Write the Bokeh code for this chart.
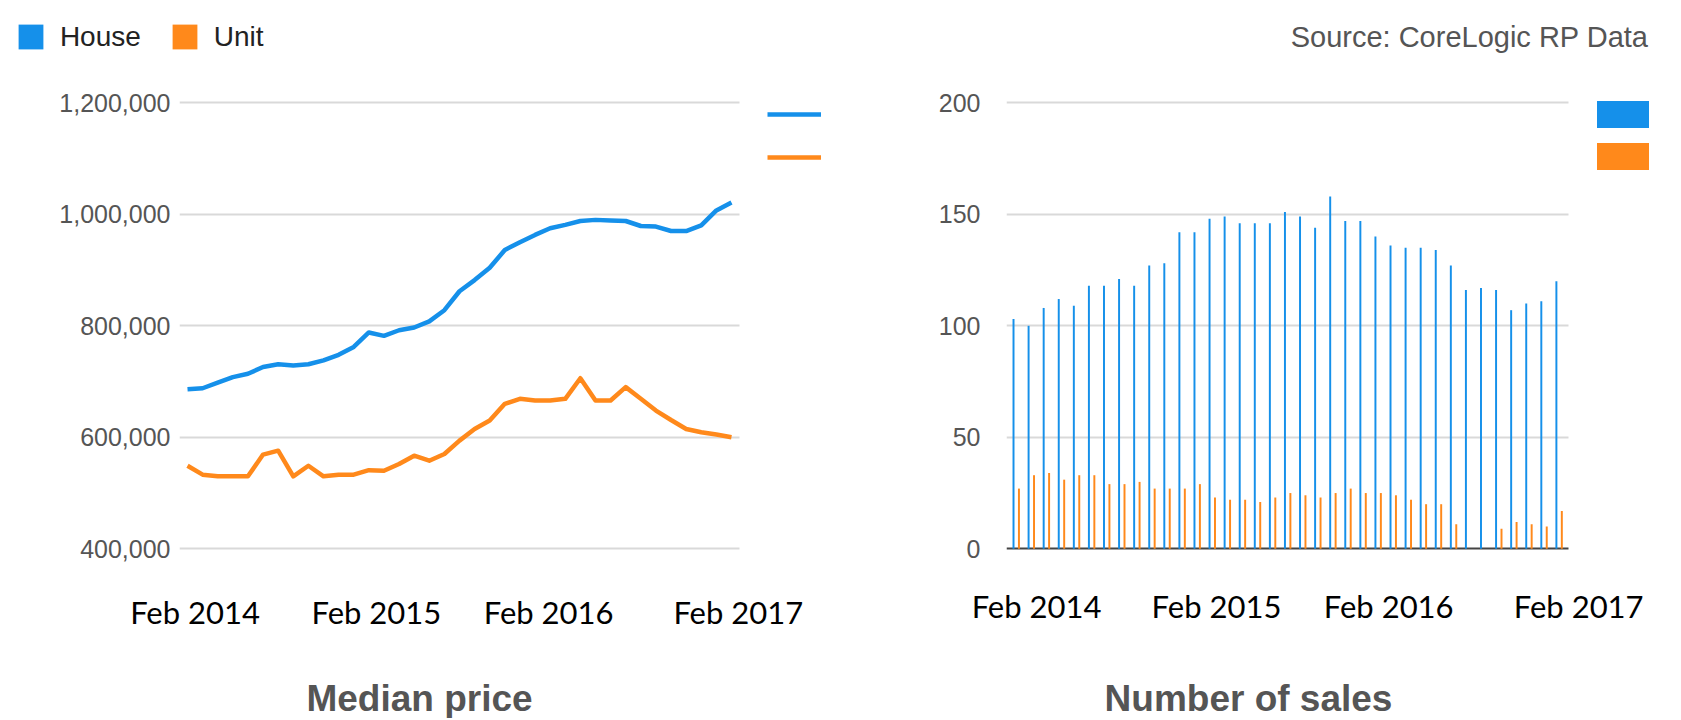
import pandas as pd
from bokeh.plotting import figure
from bokeh.models import (Range1d, FixedTicker, NumeralTickFormatter, Legend, LegendItem,
                          Label, ColumnDataSource, Grid)
from bokeh.transform import dodge
from bokeh.layouts import row, column
from bokeh.embed import file_html
from bokeh.resources import INLINE

# ---------------- data ----------------
months = [d.strftime("%b %Y") for d in pd.date_range("2014-02-01", "2017-02-01", freq="MS")]

house_price = [686000, 688000, 698000, 708000, 714000, 726000, 731000, 729000, 731000, 738000,
               748000, 762000, 788000, 782000, 792000, 797000, 808000, 828000, 862000, 882000,
               904000, 936000, 950000, 963000, 975000, 981000, 988000, 990000, 989000, 988000,
               979000, 978000, 970000, 970000, 980000, 1007000, 1021000]
unit_price = [549000, 533000, 530000, 530000, 530000, 569000, 576000, 530000, 549000, 530000,
              533000, 533000, 541000, 540000, 552000, 567000, 558000, 570000, 594000, 615000,
              630000, 660000, 669000, 666000, 666000, 669000, 706000, 666000, 666000, 690000,
              669000, 648000, 631000, 615000, 609000, 605000, 600000]

house_sales = [103, 100, 108, 112, 109, 118, 118, 121, 118, 127, 128, 142, 142, 148, 149, 146,
               146, 146, 151, 149, 144, 158, 147, 147, 140, 136, 135, 135, 134, 127, 116, 117,
               116, 107, 110, 111, 120]
unit_sales = [27, 33, 34, 31, 33, 33, 29, 29, 30, 27, 27, 27, 29, 23, 22, 22, 21, 23, 25, 24,
              23, 25, 27, 25, 25, 24, 22, 20, 20, 11, 0, 0, 9, 12, 11, 10, 17]

series_names = ["House", "Unit"]
x_tick_labels = ["Feb 2014", "Feb 2015", "Feb 2016", "Feb 2017"]
price_ticks = [400000, 600000, 800000, 1000000, 1200000]
sales_ticks = [0, 50, 100, 150, 200]

# label positions (layout)
L_TICK_POS = [0.5, 12.5, 23.9, 36.45]
R_TICK_POS = [1.35, 13.28, 24.7, 37.3]

BLUE = "#1590ea"
ORANGE = "#ff891b"
GRID = "#d9d9d9"
SANS = "Liberation Sans"
W_TOTAL = 1678
H_HEAD, H_MAIN, H_FOOT = 62, 588, 68
B_TOP, B_BOT = 34, 99
NAN = float("nan")

xi = list(range(len(months)))
src = ColumnDataSource(dict(x=xi, month=months, house_price=house_price, unit_price=unit_price,
                            house_sales=house_sales, unit_sales=unit_sales))


def blank_fig(w, h):
    f = figure(width=w, height=h, output_backend="svg", toolbar_location=None,
               x_range=Range1d(0, 1), y_range=Range1d(0, 1), min_border=0,
               x_axis_location=None, y_axis_location=None)
    f.outline_line_color = None
    f.grid.visible = False
    f.background_fill_color = "white"
    f.border_fill_color = "white"
    return f


def style_common(p):
    p.outline_line_color = None
    p.xgrid.visible = False
    p.ygrid.grid_line_color = GRID
    p.ygrid.grid_line_width = 2
    p.background_fill_color = "white"
    p.border_fill_color = "white"
    for ax in (p.xaxis[0], p.yaxis[0]):
        ax.major_tick_line_color = None
        ax.minor_tick_line_color = None
        ax.major_tick_out = 0
        ax.major_tick_in = 0
        ax.axis_line_color = None
    p.yaxis.major_label_text_font = SANS
    p.yaxis.major_label_text_font_size = "25px"
    p.yaxis.major_label_text_color = "#555555"
    p.xaxis.major_label_text_font = "Lato"
    p.xaxis.major_label_text_font_size = "31px"
    p.xaxis.major_label_text_color = "#000000"


# ---------------- header: series legend + source ----------------
hdr = blank_fig(W_TOTAL, H_HEAD)
proxy = ColumnDataSource(dict(x=[NAN], top=[NAN]))
sq_h = hdr.vbar(x="x", top="top", width=0.5, source=proxy, fill_color=BLUE, line_color=None)
sq_u = hdr.vbar(x="x", top="top", width=0.5, source=proxy, fill_color=ORANGE, line_color=None)
leg_top = Legend(items=[LegendItem(label=series_names[0], renderers=[sq_h]),
                        LegendItem(label=series_names[1], renderers=[sq_u])],
                 orientation="horizontal", location=(14.9, 9.1),
                 glyph_width=31, glyph_height=31, label_height=31, label_standoff=14,
                 spacing=28, padding=0, margin=0, border_line_color=None,
                 background_fill_alpha=0, label_text_font=SANS, label_text_font_size="28px",
                 label_text_color="#222222")
hdr.add_layout(leg_top)
hdr.add_layout(Label(x=1648, y=26, x_units="screen", y_units="screen",
                     text="Source: CoreLogic RP Data", text_align="right",
                     text_baseline="alphabetic", text_font=SANS, text_font_size="29px",
                     text_color="#555555"))

# ---------------- left: median price ----------------
PX1 = 800000 / 446
L_X0, L_X1 = -0.53, 36.55          # extent of the plotted area (grid lines)
p1 = figure(width=870, height=H_MAIN, output_backend="svg", toolbar_location=None,
            x_range=Range1d(L_X0, L_X0 + 661 / 15.11),
            y_range=Range1d(400000 - 2.7 * PX1, 1200000 + 6.3 * PX1),
            min_border_left=179, min_border_right=30, min_border_top=B_TOP,
            min_border_bottom=B_BOT)
style_common(p1)
p1.ygrid.cross_bounds = (L_X0, L_X1)
p1.yaxis.ticker = FixedTicker(ticks=price_ticks)
p1.yaxis.formatter = NumeralTickFormatter(format="0,0")
p1.yaxis.major_label_standoff = 9
p1.xaxis.ticker = FixedTicker(ticks=L_TICK_POS)
p1.xaxis.major_label_overrides = {pos: lab for pos, lab in zip(L_TICK_POS, x_tick_labels)}
p1.xaxis.major_label_standoff = 41

r_h = p1.line("x", "house_price", source=src, line_color=BLUE, line_width=4.5, line_join="round")
r_u = p1.line("x", "unit_price", source=src, line_color=ORANGE, line_width=4.5, line_join="round")

leg_lines = Legend(items=[LegendItem(label=" ", renderers=[r_h]),
                          LegendItem(label=" ", renderers=[r_u])],
                   location=(588, 384), glyph_width=54, glyph_height=20, label_height=20,
                   label_width=1, label_standoff=0, spacing=23, padding=0, margin=0,
                   border_line_color=None, background_fill_alpha=0, label_text_font_size="8px")
p1.add_layout(leg_lines)

# ---------------- right: number of sales ----------------
PX2 = 200 / 446
R_X0, R_X1 = -0.645, 36.62
p2 = figure(width=808, height=H_MAIN, output_backend="svg", toolbar_location=None,
            x_range=Range1d(R_X0, R_X0 + 664 / 15.08),
            y_range=Range1d(-2.7 * PX2, 200 + 6.3 * PX2),
            min_border_left=136, min_border_right=8, min_border_top=B_TOP,
            min_border_bottom=B_BOT)
style_common(p2)
p2.ygrid.ticker = FixedTicker(ticks=sales_ticks[1:])
p2.ygrid.cross_bounds = (R_X0, R_X1)
p2.add_layout(Grid(dimension=1, ticker=FixedTicker(ticks=sales_ticks[:1]),
                   grid_line_color="#444444", grid_line_width=2, cross_bounds=(R_X0, R_X1)))
p2.yaxis.ticker = FixedTicker(ticks=sales_ticks)
p2.yaxis.major_label_standoff = 26
p2.xaxis.ticker = FixedTicker(ticks=R_TICK_POS)
p2.xaxis.major_label_overrides = {pos: lab for pos, lab in zip(R_TICK_POS, x_tick_labels)}
p2.xaxis.major_label_standoff = 35

b_h = p2.vbar(x=dodge("x", -0.18), top="house_sales", width=0.13, source=src,
              fill_color=BLUE, line_color=None)
b_u = p2.vbar(x=dodge("x", 0.18), top="unit_sales", width=0.13, source=src,
              fill_color=ORANGE, line_color=None)

leg_bars = Legend(items=[LegendItem(label=" ", renderers=[b_h]),
                         LegendItem(label=" ", renderers=[b_u])],
                  location=(583.5, 378.4), glyph_width=65, glyph_height=34, label_height=34,
                  label_width=1, label_standoff=0, spacing=8, padding=0, margin=0,
                  border_line_color=None, background_fill_alpha=0, label_text_font_size="8px")
p2.add_layout(leg_bars)

# ---------------- footer: chart titles ----------------
ftr = blank_fig(W_TOTAL, H_FOOT)
for text, cx in (("Median price", 419), ("Number of sales", 1248)):
    ftr.add_layout(Label(x=cx, y=20, x_units="screen", y_units="screen", text=text,
                         text_align="center", text_baseline="alphabetic", text_font=SANS,
                         text_font_style="bold", text_font_size="37px", text_color="#555555"))

layout = column(hdr, row(p1, p2), ftr)
open("out.html", "w").write(file_html(layout, INLINE))
